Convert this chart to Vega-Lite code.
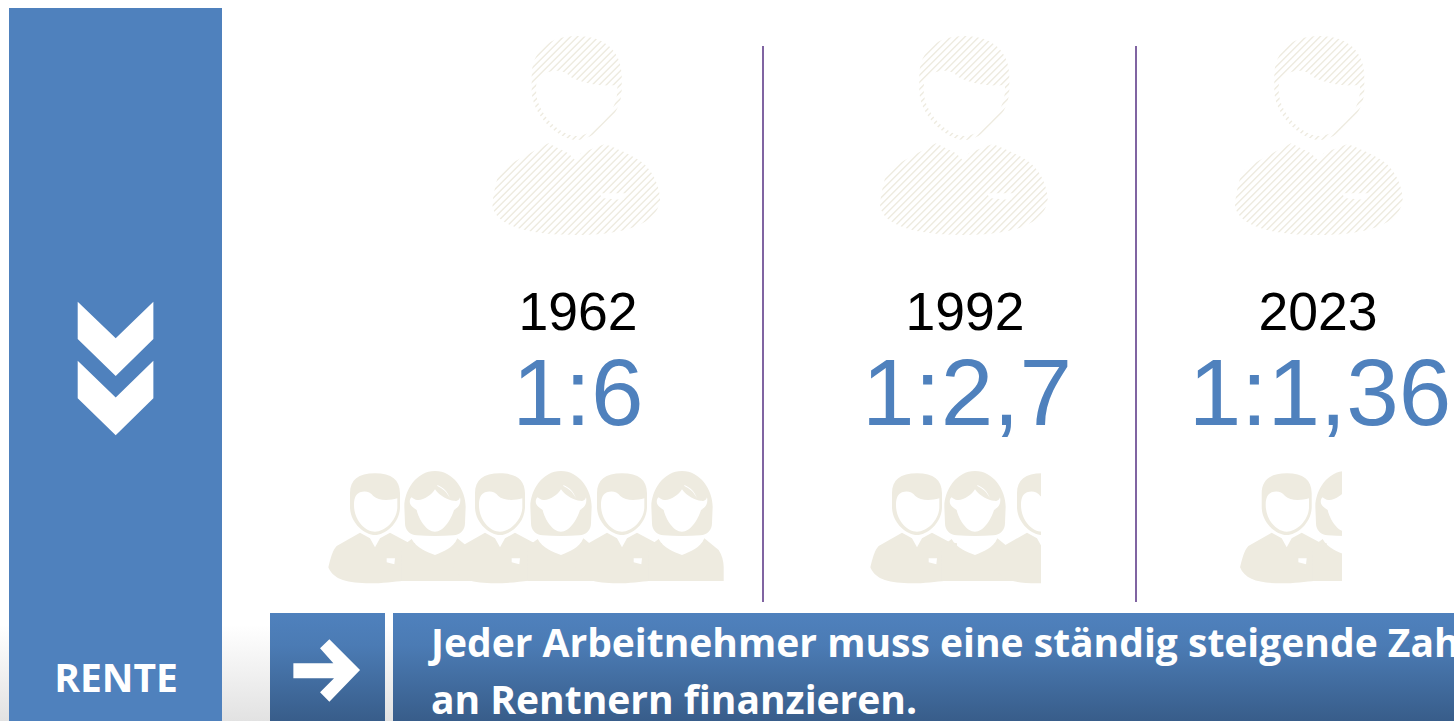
{"$schema":"https://vega.github.io/schema/vega-lite/v6.json","width":1454,"height":721,"autosize":{"type":"none"},"padding":0,"background":"#ffffff","config":{"view":{"stroke":null},"axis":{"disable":true},"legend":{"disable":true}},
"datasets":{"ratios":[{"year":1962,"ratio":"1:6","rentner":6},{"year":1992,"ratio":"1:2,7","rentner":2.7},{"year":2023,"ratio":"1:1,36","rentner":1.36}],
"seats":[{"year":1962,"seat":1,"gender":"m"},{"year":1962,"seat":2,"gender":"w"},{"year":1962,"seat":3,"gender":"m"},{"year":1962,"seat":4,"gender":"w"},{"year":1962,"seat":5,"gender":"m"},{"year":1962,"seat":6,"gender":"w"},{"year":1992,"seat":7,"gender":"m"},{"year":1992,"seat":8,"gender":"w"},{"year":1992,"seat":9,"gender":"m"},{"year":2023,"seat":10,"gender":"m"},{"year":2023,"seat":11,"gender":"w"}],
"element":[{"element":"Rahmen"}]},
"resolve":{"scale":{"x":"independent","y":"independent","shape":"independent"}},
"layer":[
{"data":{"name":"element"},"mark":{"type":"rect","fill":{"gradient":"linear","x1":0,"y1":0,"x2":0,"y2":1,"stops":[{"offset":0,"color":"#ffffff"},{"offset":1,"color":"#e2e2e2"}]}},"encoding":{"x":{"datum":0,"scale":{"domain":[0,1454],"range":[0,1454]}},"x2":{"datum":1454},"y":{"datum":625,"scale":{"domain":[0,721],"range":[0,721]}},"y2":{"datum":721}}},
{"data":{"name":"element"},"mark":{"type":"rect","fill":"#4f81bd"},"encoding":{"x":{"datum":9,"scale":{"domain":[0,1454],"range":[0,1454]}},"x2":{"datum":222},"y":{"datum":8,"scale":{"domain":[0,721],"range":[0,721]}},"y2":{"datum":721}}},
{"data":{"name":"element"},"mark":{"type":"rect","fill":{"gradient":"linear","x1":0,"y1":0,"x2":0,"y2":1,"stops":[{"offset":0,"color":"#4f81bd"},{"offset":0.3,"color":"#4b7bb4"},{"offset":1,"color":"#385d8a"}]}},"encoding":{"x":{"datum":270,"scale":{"domain":[0,1454],"range":[0,1454]}},"x2":{"datum":385},"y":{"datum":613,"scale":{"domain":[0,721],"range":[0,721]}},"y2":{"datum":721}}},
{"data":{"name":"element"},"mark":{"type":"rect","fill":{"gradient":"linear","x1":0,"y1":0,"x2":0,"y2":1,"stops":[{"offset":0,"color":"#4f81bd"},{"offset":0.3,"color":"#4b7bb4"},{"offset":1,"color":"#385d8a"}]}},"encoding":{"x":{"datum":393,"scale":{"domain":[0,1454],"range":[0,1454]}},"x2":{"datum":1454},"y":{"datum":613,"scale":{"domain":[0,721],"range":[0,721]}},"y2":{"datum":721}}},
{"data":{"name":"ratios"},"mark":{"type":"point","filled":true,"opacity":1,"size":0.4444,"fill":"#eeebe0","strokeWidth":0,"shape":"M0 -252C80 -252 135 -210 135 -130L135 -90C135 -10 50 60 0 60C-50 60 -135 -10 -135 -90L-135 -130C-135 -210 -80 -252 0 -252ZM122 -105C70 -100 20 -110 -20 -130C-35 -150 -70 -155 -105 -135C-120 -125 -122 -110 -122 -90C-122 -20 -50 48 0 48C50 48 122 -20 122 -90ZM-85 70L-25 100L0 125L12 100L85 72C130 90 190 115 210 140C235 165 250 210 250 240C245 290 190 345 0 345C-190 345 -253 300 -253 250C-245 200 -240 170 -225 150C-200 130 -130 95 -85 70ZM65 220L80 235L140 240L155 220Z"},"encoding":{"x":{"field":"year","type":"quantitative","scale":{"domain":[1962,1992,2023],"range":[576.7,964.3,1319.3]}},"y":{"datum":120,"scale":{"domain":[0,721],"range":[0,721]}}}},
{"data":{"name":"ratios"},"mark":{"type":"point","filled":false,"opacity":1,"size":4,"stroke":"#ffffff","strokeWidth":3.6,"shape":"M-260 125l220 -220m-213 220l220 -220m-213 220l220 -220m-213 220l220 -220m-213 220l220 -220m-213 220l220 -220m-213 220l220 -220m-213 220l220 -220m-213 220l220 -220m-213 220l220 -220m-213 220l220 -220m-213 220l220 -220m-213 220l220 -220m-213 220l220 -220m-213 220l220 -220m-213 220l220 -220m-213 220l220 -220m-213 220l220 -220m-213 220l220 -220m-213 220l220 -220m-213 220l220 -220m-213 220l220 -220m-213 220l220 -220m-213 220l220 -220m-213 220l220 -220m-213 220l220 -220m-213 220l220 -220m-213 220l220 -220m-213 220l220 -220m-213 220l220 -220m-213 220l220 -220m-213 220l220 -220m-213 220l220 -220m-213 220l220 -220m-213 220l220 -220m-213 220l220 -220m-213 220l220 -220m-213 220l220 -220m-213 220l220 -220m-213 220l220 -220m-213 220l220 -220m-213 220l220 -220m-213 220l220 -220m-213 220l220 -220m-213 220l220 -220m-213 220l220 -220m-213 220l220 -220"},"encoding":{"x":{"field":"year","type":"quantitative","scale":{"domain":[1962,1992,2023],"range":[576.7,964.3,1319.3]}},"y":{"datum":120,"scale":{"domain":[0,721],"range":[0,721]}}}},
{"data":{"name":"seats"},"mark":{"type":"point","filled":true,"opacity":1,"size":0.4444,"fill":"#eeebe0","strokeWidth":0},"encoding":{"x":{"field":"seat","type":"quantitative","scale":{"domain":[1,2,3,4,5,6,7,8,9,10,11],"range":[375,435,500,561,622,682,917,975,1042,1286.7,1346]}},"y":{"datum":526.7,"scale":{"domain":[0,721],"range":[0,721]}},"shape":{"field":"gender","type":"nominal","legend":null,"scale":{"domain":["m","w"],"range":["M0 -160C50 -160 75 -140 75 -100L75 -60C75 -10 30 25 0 25C-30 25 -75 -10 -75 -60L-75 -100C-75 -140 -50 -160 0 -160ZM67 -85C40 -78 10 -78 -5 -92C-15 -105 -30 -108 -45 -103C-55 -98 -63 -90 -63 -65C-63 -20 -30 15 0 15C30 15 67 -20 67 -60ZM-45 18L-15 35L0 62L15 35L45 18L97 46L120 50L120 162L85 162C60 165 20 170 -15 170C-80 170 -125 160 -140 122C-130 80 -125 70 -115 58ZM35 95L35 107L58 113L60 95Z","M0 -167C55 -167 92 -110 92 -60L90 -10C90 10 75 26 55 26C20 29 -20 29 -55 26C-75 26 -90 10 -90 -10L-92 -60C-92 -110 -55 -167 0 -167ZM75 -88C72 -78 65 -76 60 -78C45 -76 15 -90 0 -112C-10 -95 -35 -78 -53 -80C-60 -80 -65 -84 -70 -88C-78 -82 -78 -68 -68 -60C-62 -56 -60 -54 -55 -50C-48 -20 -25 15 0 15C25 15 48 -20 57 -50C65 -55 80 -65 75 -88ZM7 -122C22 -115 35 -105 45 -85C38 -105 25 -118 7 -125ZM-70 37C-55 65 -25 75 0 85C25 75 55 65 67 35L110 70C120 85 125 105 125 120L125 163L-100 163L-100 70L-83 47Z"]}}}},
{"data":{"name":"element"},"mark":{"type":"rect","fill":"#ffffff"},"encoding":{"x":{"datum":1041,"scale":{"domain":[0,1454],"range":[0,1454]}},"x2":{"datum":1110},"y":{"datum":465,"scale":{"domain":[0,721],"range":[0,721]}},"y2":{"datum":590}}},
{"data":{"name":"element"},"mark":{"type":"rect","fill":"#ffffff"},"encoding":{"x":{"datum":1342,"scale":{"domain":[0,1454],"range":[0,1454]}},"x2":{"datum":1430},"y":{"datum":465,"scale":{"domain":[0,721],"range":[0,721]}},"y2":{"datum":590}}},
{"data":{"name":"element"},"mark":{"type":"rect","fill":"#8064a2"},"encoding":{"x":{"datum":762,"scale":{"domain":[0,1454],"range":[0,1454]}},"x2":{"datum":764},"y":{"datum":46,"scale":{"domain":[0,721],"range":[0,721]}},"y2":{"datum":602}}},
{"data":{"name":"element"},"mark":{"type":"rect","fill":"#8064a2"},"encoding":{"x":{"datum":1135,"scale":{"domain":[0,1454],"range":[0,1454]}},"x2":{"datum":1137},"y":{"datum":46,"scale":{"domain":[0,721],"range":[0,721]}},"y2":{"datum":602}}},
{"data":{"name":"element"},"mark":{"type":"point","filled":true,"opacity":1,"size":0.4444,"fill":"#ffffff","strokeWidth":0,"shape":"M-114 -110L0 0L113 -110L113 2L0 113L-114 2Z"},"encoding":{"x":{"datum":115.7,"scale":{"domain":[0,1454],"range":[0,1454]}},"y":{"datum":338.3,"scale":{"domain":[0,721],"range":[0,721]}}}},
{"data":{"name":"element"},"mark":{"type":"point","filled":true,"opacity":1,"size":0.4444,"fill":"#ffffff","strokeWidth":0,"shape":"M-114 -110L0 0L113 -110L113 2L0 113L-114 2Z"},"encoding":{"x":{"datum":115.7,"scale":{"domain":[0,1454],"range":[0,1454]}},"y":{"datum":397.5,"scale":{"domain":[0,721],"range":[0,721]}}}},
{"data":{"name":"element"},"mark":{"type":"point","filled":true,"opacity":1,"size":0.4444,"fill":"#ffffff","strokeWidth":0,"shape":"M-100 -20L20 -20L-20 -65L8 -92L100 0L8 95L-20 67L22 25L-100 25Z"},"encoding":{"x":{"datum":326.7,"scale":{"domain":[0,1454],"range":[0,1454]}},"y":{"datum":670,"scale":{"domain":[0,721],"range":[0,721]}}}},
{"data":{"name":"ratios"},"mark":{"type":"text","font":"Liberation Sans","fontSize":53.5,"fill":"#000000","align":"center","baseline":"alphabetic"},"encoding":{"text":{"field":"year","type":"nominal"},"x":{"field":"year","type":"quantitative","scale":{"domain":[1962,1992,2023],"range":[578,965,1318]}},"y":{"datum":330,"scale":{"domain":[0,721],"range":[0,721]}}}},
{"data":{"name":"ratios"},"mark":{"type":"text","font":"Liberation Sans","fontSize":94.5,"fill":"#4f81bd","align":"center","baseline":"alphabetic"},"encoding":{"text":{"field":"ratio","type":"nominal"},"x":{"field":"year","type":"quantitative","scale":{"domain":[1962,1992,2023],"range":[578,967,1320]}},"y":{"datum":425,"scale":{"domain":[0,721],"range":[0,721]}}}},
{"data":{"values":[{"label":"RENTE"}]},"mark":{"type":"text","font":"Open Sans","fontWeight":"bold","fontSize":39,"fill":"#ffffff","align":"center","baseline":"alphabetic"},"encoding":{"text":{"field":"label","type":"nominal"},"x":{"datum":116,"scale":{"domain":[0,1454],"range":[0,1454]}},"y":{"datum":692,"scale":{"domain":[0,721],"range":[0,721]}}}},
{"data":{"values":[{"label":"Jeder Arbeitnehmer muss eine ständig steigende Zahl"}]},"mark":{"type":"text","font":"Open Sans","fontWeight":"bold","fontSize":39,"fill":"#ffffff","align":"left","baseline":"alphabetic"},"encoding":{"text":{"field":"label","type":"nominal"},"x":{"datum":431,"scale":{"domain":[0,1454],"range":[0,1454]}},"y":{"datum":657,"scale":{"domain":[0,721],"range":[0,721]}}}},
{"data":{"values":[{"label":"an Rentnern finanzieren."}]},"mark":{"type":"text","font":"Open Sans","fontWeight":"bold","fontSize":39,"fill":"#ffffff","align":"left","baseline":"alphabetic"},"encoding":{"text":{"field":"label","type":"nominal"},"x":{"datum":431,"scale":{"domain":[0,1454],"range":[0,1454]}},"y":{"datum":714,"scale":{"domain":[0,721],"range":[0,721]}}}}
]}
